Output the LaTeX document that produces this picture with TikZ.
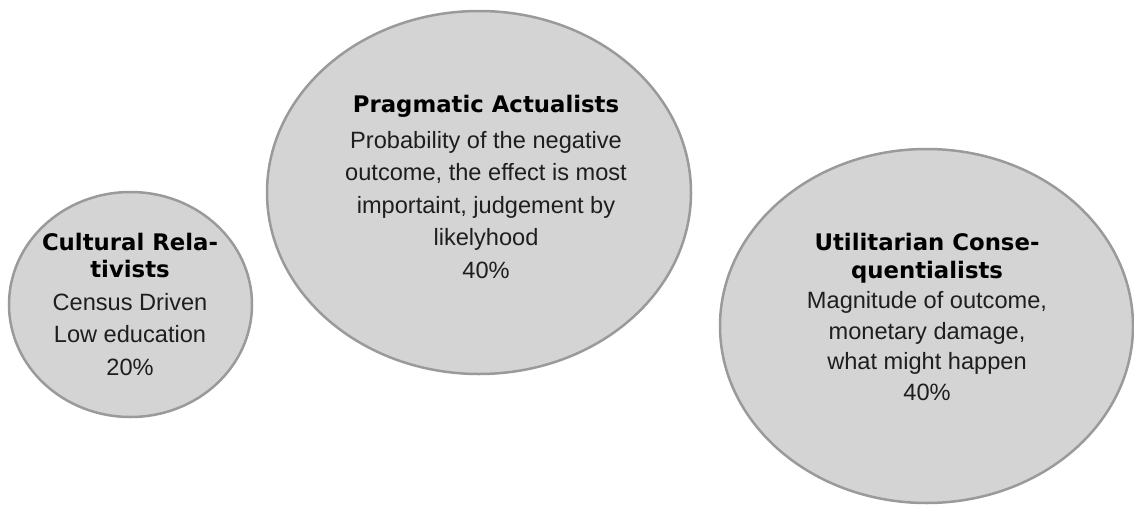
\documentclass[tikz,border=0pt]{standalone}
\usepackage{fontspec}
\setmainfont{Liberation Sans}
\newfontfamily\headfamily{DejaVu Sans}
\usetikzlibrary{shapes.geometric}
\definecolor{discgray}{HTML}{D4D4D4}
\definecolor{ringgray}{HTML}{9A9A9A}
\definecolor{bodyink}{HTML}{1E1E1E}
\newcommand{\grouphead}[1]{{\headfamily\bfseries\fontsize{22.8}{31}\selectfont\color{black}#1}}
\tikzset{
  group/.style={ellipse, draw=ringgray, fill=discgray, line width=2.5pt, inner sep=0pt},
  grouptext/.style={align=center, inner sep=0pt, text=bodyink,
    font=\fontsize{23.6}{32.5}\selectfont},
}
\begin{document}
\begin{tikzpicture}[x=1pt, y=-1pt]
  \useasboundingbox (0,0) rectangle (1134,506);

  % the three groups
  \node[group, minimum width=243pt, minimum height=225pt] (cr) at (130.5,304.5) {};
  \node[group, minimum width=424pt, minimum height=363pt] (pa) at (479,192.5) {};
  \node[group, minimum width=413pt, minimum height=354pt] (uc) at (926.5,326) {};

  % their descriptions
  \node[grouptext] (crt) at (130,304)
    {\grouphead{Cultural Rela-}\\[-5pt]\grouphead{tivists}\\Census Driven\\Low education\\20\%};
  \node[grouptext] (pat) at (486,187)
    {\grouphead{Pragmatic Actualists}\\[3pt]Probability of the negative\\outcome, the effect is most\\importaint, judgement by\\likelyhood\\40\%};
  \node[grouptext, font=\fontsize{23.6}{30.5}\selectfont] (uct) at (927,317)
    {\grouphead{Utilitarian Conse-}\\[-3pt]\grouphead{quentialists}\\Magnitude of outcome,\\monetary damage,\\what might happen\\40\%};
\end{tikzpicture}
\end{document}
